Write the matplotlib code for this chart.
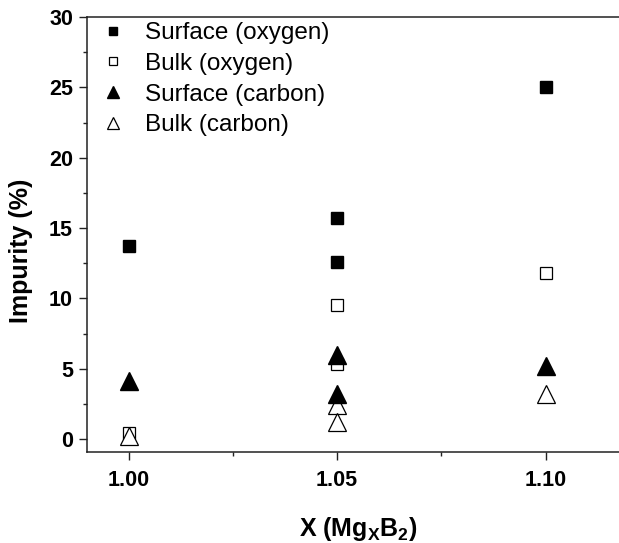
import matplotlib

matplotlib.use("Agg")
import matplotlib.pyplot as plt
from matplotlib.ticker import MultipleLocator


# values
surface_oxygen_x = [1.00, 1.05, 1.05, 1.10]
surface_oxygen_y = [13.7, 15.7, 12.6, 25.0]

bulk_oxygen_x = [1.00, 1.05, 1.05, 1.10]
bulk_oxygen_y = [0.4, 9.5, 5.3, 11.8]

surface_carbon_x = [1.00, 1.05, 1.05, 1.10]
surface_carbon_y = [4.1, 6.0, 3.2, 5.2]

bulk_carbon_x = [1.00, 1.05, 1.05, 1.10]
bulk_carbon_y = [0.25, 2.4, 1.2, 3.2]

x_ticks = [1.00, 1.05, 1.10]
y_ticks = [0, 5, 10, 15, 20, 25, 30]


plt.rcParams["font.family"] = ["Liberation Sans", "DejaVu Sans"]
plt.rcParams["mathtext.fontset"] = "custom"
plt.rcParams["mathtext.rm"] = "Liberation Sans:bold"
plt.rcParams["mathtext.bf"] = "Liberation Sans:bold"

fig = plt.figure(figsize=(6.19, 5.43), dpi=100)
ax = fig.add_axes([87 / 619, 1 - 452 / 543, 542 / 619, 435 / 543])

ax.plot(surface_oxygen_x, surface_oxygen_y, linestyle="none", marker="s",
        markersize=9, color="black", label="Surface (oxygen)", zorder=3)
ax.plot(bulk_oxygen_x, bulk_oxygen_y, linestyle="none", marker="s",
        markersize=9, markerfacecolor="white", markeredgecolor="black",
        markeredgewidth=0.9, label="Bulk (oxygen)", zorder=3)
ax.plot(surface_carbon_x, surface_carbon_y, linestyle="none", marker="^",
        markersize=12.5, color="black", label="Surface (carbon)", zorder=4)
ax.plot(bulk_carbon_x, bulk_carbon_y, linestyle="none", marker="^",
        markersize=12.5, markerfacecolor="white", markeredgecolor="black",
        markeredgewidth=0.9, label="Bulk (carbon)", zorder=3)

ax.set_xlim(0.99, 1.12)
ax.set_ylim(-0.92, 30)
ax.set_xticks(x_ticks)
ax.set_xticklabels([f"{t:.2f}" for t in x_ticks])
ax.set_yticks(y_ticks)
ax.xaxis.set_minor_locator(MultipleLocator(0.025))
ax.yaxis.set_minor_locator(MultipleLocator(2.5))

for side in ("left", "bottom", "top"):
    ax.spines[side].set_linewidth(1.1)
    ax.spines[side].set_color("#222222")
ax.spines["right"].set_visible(False)

ax.tick_params(which="major", direction="out", length=6, width=1.0,
               labelsize=15.5, pad=4, colors="#222222", labelcolor="black")
ax.tick_params(which="minor", direction="out", length=3, width=1.0,
               colors="#222222")
ax.tick_params(axis="x", which="major", pad=7)
for label in ax.get_xticklabels() + ax.get_yticklabels():
    label.set_fontweight("bold")

ax.set_ylabel("Impurity (%)", fontsize=18, fontweight="bold")
ax.yaxis.set_label_coords(-0.0996, 0.462)
ax.set_xlabel(r"X (Mg$_{\mathrm{X}}$B$_{\mathrm{2}}$)", fontsize=18,
              fontweight="bold")
ax.xaxis.set_label_coords(0.5, -0.145)

ax.legend(loc="upper left", bbox_to_anchor=(101 / 619, 1 - 22 / 543),
          bbox_transform=fig.transFigure, frameon=False, fontsize=17.5,
          markerscale=0.7, handlelength=1.0, handletextpad=0.82,
          labelspacing=0.36, borderpad=0, borderaxespad=0)

fig.savefig("out.png", dpi=100)
